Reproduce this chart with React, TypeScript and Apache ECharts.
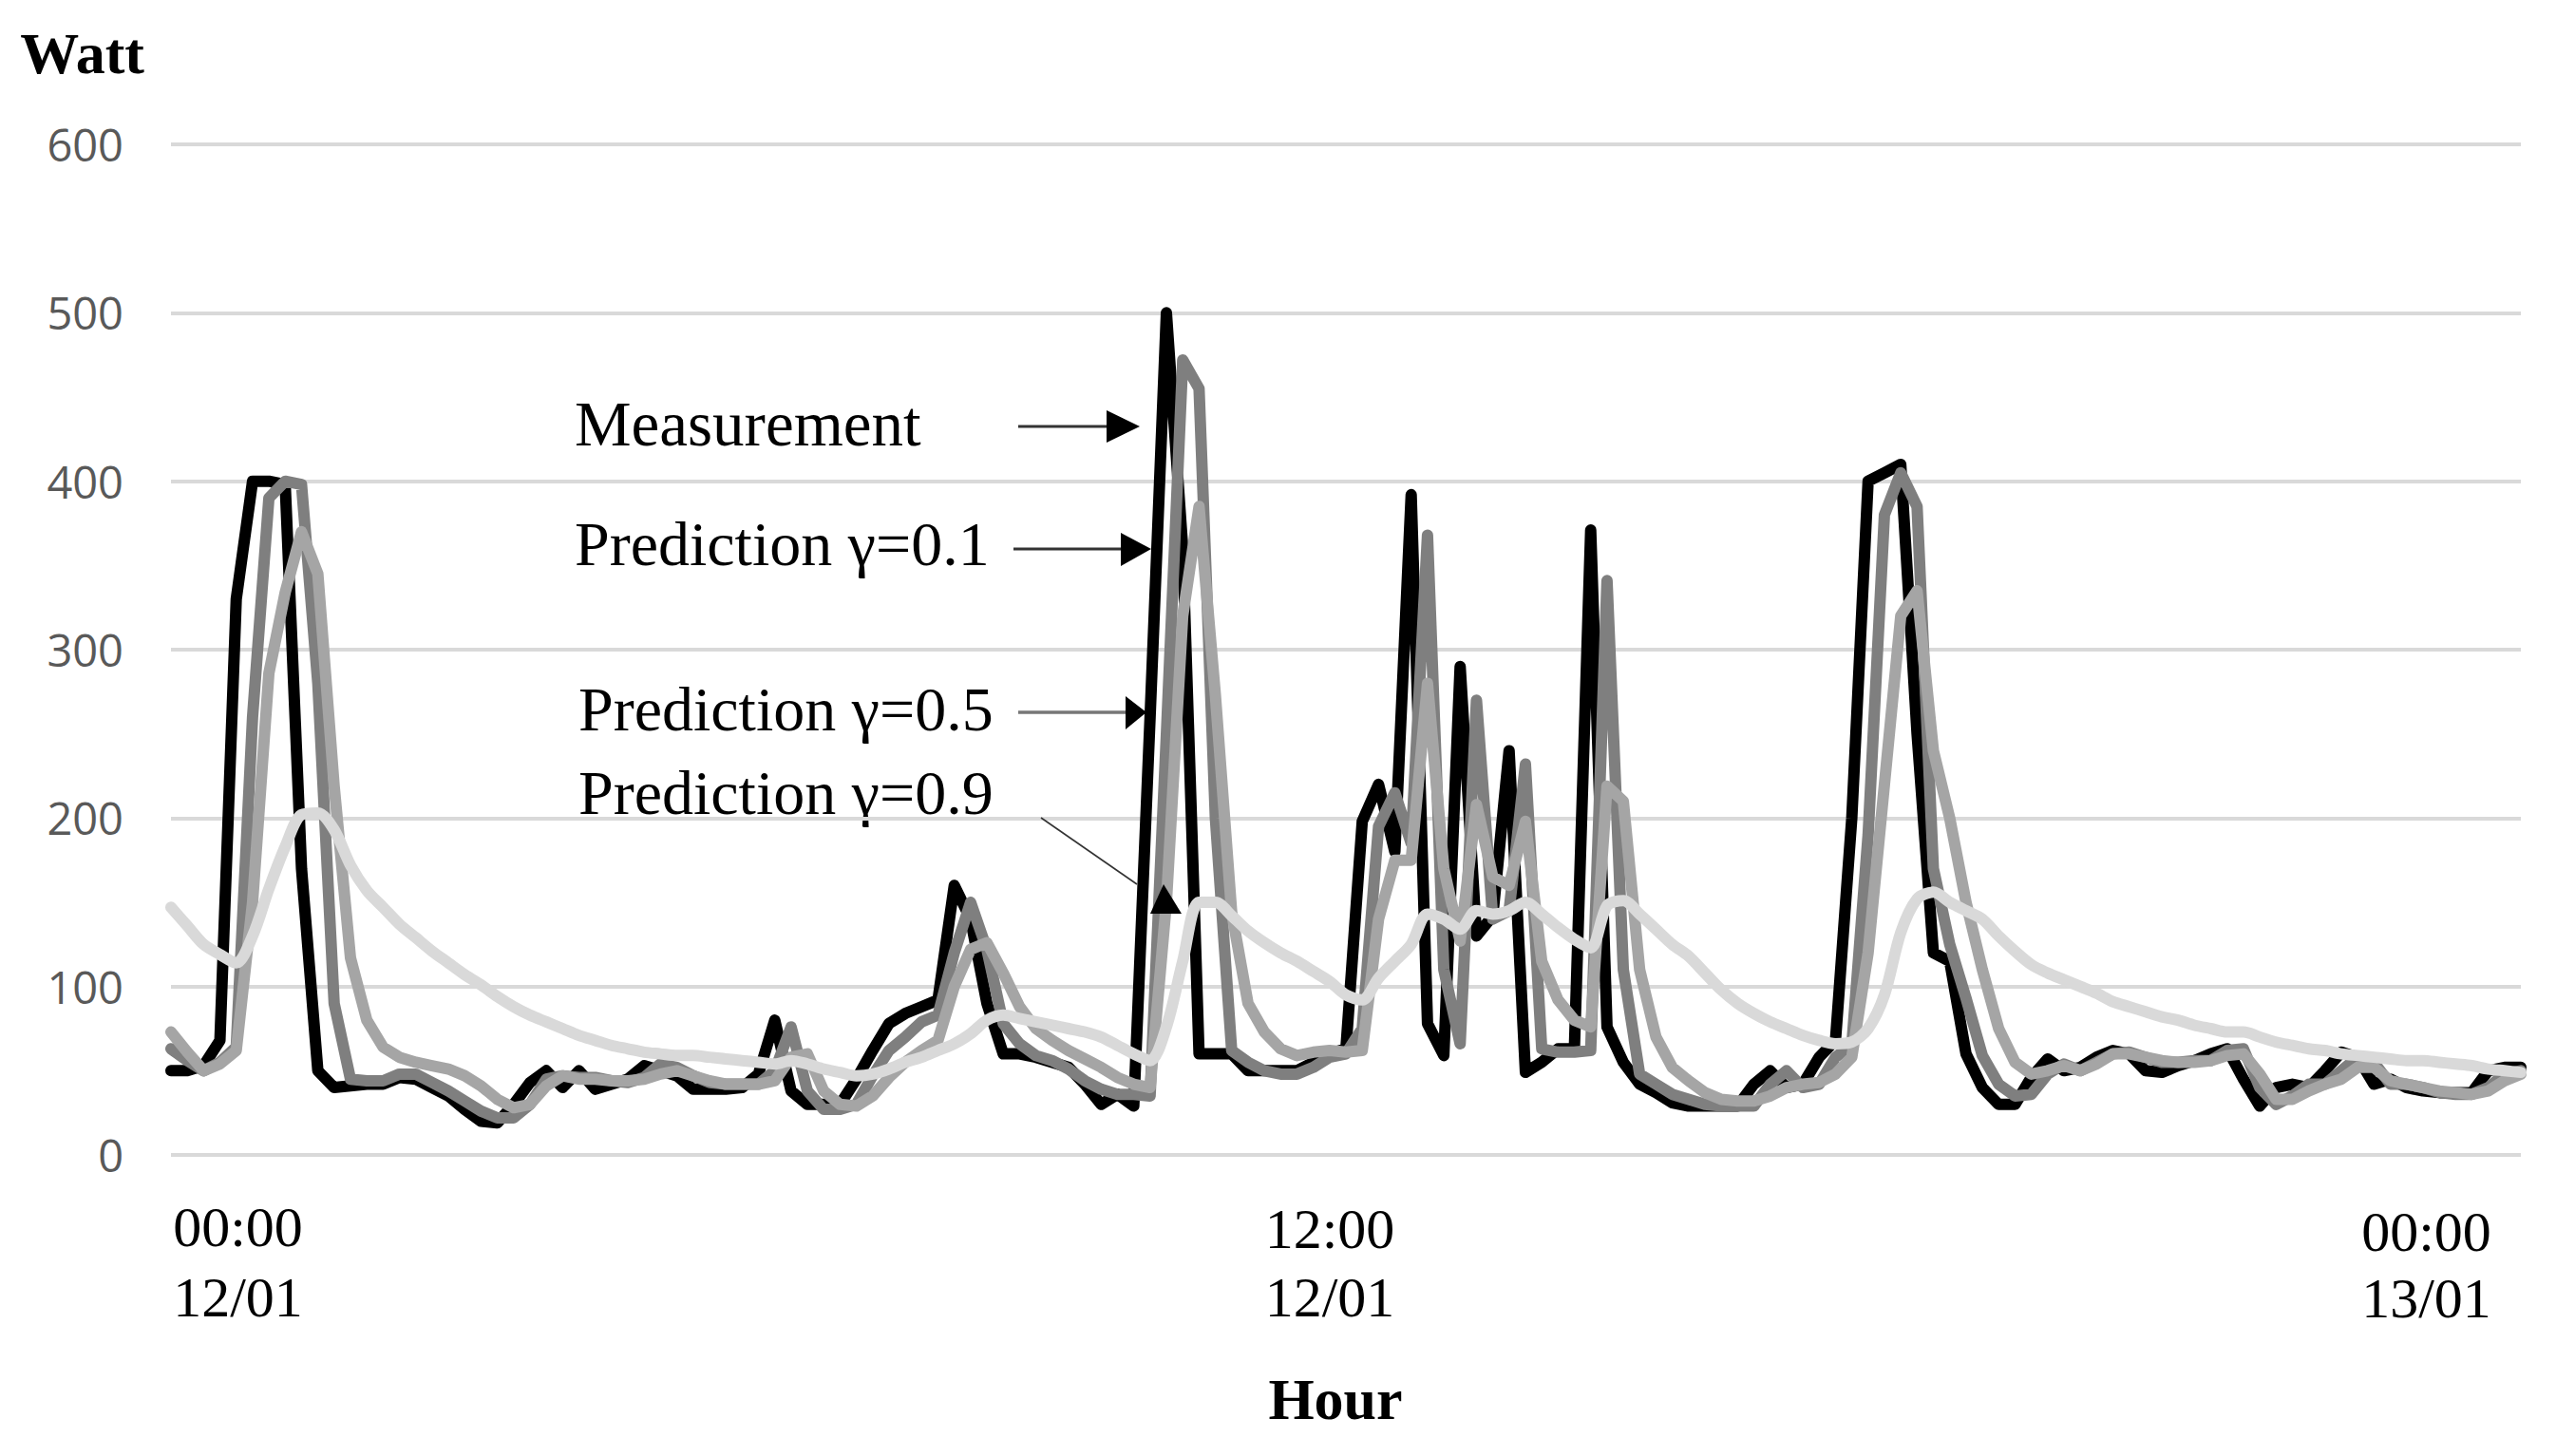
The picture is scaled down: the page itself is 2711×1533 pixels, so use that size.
import React, { useEffect, useRef } from "react";
import * as echarts from "echarts";

// 10-minute samples from 00:00 12/01 to 00:00 13/01
const pad = (n: number) => (n < 10 ? "0" + n : "" + n);
const categories: string[] = Array.from({ length: 145 }, (_, i) => {
  const t = i * 10;
  const day = 12 + Math.floor(t / 1440);
  const m = t % 1440;
  return `${pad(Math.floor(m / 60))}:${pad(m % 60)}\n${day}/01`;
});

const xTickIndex = [0, 72, 144];
const xTickStyle = ["a", "b", "c"];
const yTicks = [0, 100, 200, 300, 400, 500, 600];

const measurement = [
  50, 50, 53, 68, 330, 400, 400, 398, 170, 50,
  40, 41, 42, 42, 46, 45, 40, 35, 27, 20,
  19, 30, 43, 50, 40, 50, 39, 42, 45, 53,
  50, 47, 39, 39, 39, 40, 48, 80, 38, 30,
  30, 30, 45, 62, 78, 84, 88, 92, 160, 140,
  90, 60, 60, 58, 55, 52, 42, 30, 36, 29,
  260, 500, 360, 60, 60, 60, 50, 50, 50, 50,
  55, 60, 63, 198, 220, 180, 392, 78, 59, 290,
  130, 142, 240, 49, 55, 63, 63, 371, 76, 55,
  42, 37, 31, 29, 29, 29, 29, 42, 50, 40,
  42, 58, 68, 200, 400, 405, 410, 250, 120, 115,
  60, 40, 30, 30, 46, 57, 50, 52, 58, 62,
  60, 50, 49, 53, 56, 60, 63, 45, 29, 40,
  42, 40, 50, 61, 58, 42, 45, 40, 38, 37,
  37, 37, 50, 52, 52,
];

const predGamma01 = [
  63, 56, 50, 55, 64, 260, 390, 400, 398, 280,
  90, 45, 44, 44, 48, 48, 43, 38, 32, 26,
  22, 22, 30, 45, 47, 46, 46, 44, 43, 46,
  54, 52, 47, 43, 42, 42, 42, 50, 76, 38,
  27, 27, 30, 47, 62, 70, 79, 83, 120, 150,
  122, 78, 66, 59, 56, 51, 44, 39, 36, 36,
  35, 250, 472, 455, 200, 62, 55, 50, 48, 48,
  52, 58, 60, 75, 195, 215, 185, 368, 110, 66,
  270, 140, 145, 232, 63, 61, 61, 62, 341, 110,
  48, 42, 36, 33, 30, 29, 29, 29, 42, 50,
  40, 42, 58, 65, 190, 380, 405, 385, 170, 125,
  93, 59, 42, 35, 36, 48, 54, 50, 55, 60,
  61, 58, 55, 55, 56, 56, 62, 63, 40, 30,
  35, 42, 42, 50, 58, 55, 42, 42, 40, 37,
  36, 36, 40, 48, 50,
];

const predGamma05 = [
  73, 61, 50, 54, 62, 150, 286, 334, 370, 345,
  219, 117, 80, 64, 58, 55, 53, 51, 47, 41,
  33, 28, 30, 41, 47, 45, 45, 44, 44, 45,
  48, 50, 47, 44, 42, 42, 42, 44, 58, 60,
  38, 30, 29, 35, 46, 55, 62, 68, 100, 122,
  126, 108, 88, 75, 68, 62, 57, 52, 46, 42,
  40, 150, 320, 385, 273, 144, 90, 73, 63, 59,
  61, 62, 61, 62, 140, 175, 175, 280, 170, 127,
  208, 165, 160, 198, 115, 92, 80, 76, 219, 210,
  110, 70, 52, 44, 37, 33, 32, 32, 35, 40,
  42, 43, 48, 58, 120, 220, 320, 335, 240, 200,
  150, 110, 75, 55, 48, 50, 53, 50, 54, 60,
  60, 58, 56, 55, 55, 56, 59, 60, 48, 33,
  33, 38, 42, 45, 52, 52, 44, 42, 40, 38,
  37, 36, 38, 44, 48,
];

const predGamma09 = [
  147, 136, 125, 119, 114, 130, 158, 183, 202, 203,
  193, 172, 157, 147, 137, 129, 121, 114, 107, 101,
  94, 88, 83, 79, 75, 71, 68, 65, 63, 61,
  60, 59, 59, 58, 57, 56, 55, 54, 56, 54,
  51, 49, 47, 48, 51, 55, 58, 62, 66, 72,
  80, 83, 81, 79, 77, 75, 73, 70, 65, 60,
  56, 76, 115, 150, 150, 142, 133, 126, 120, 115,
  109, 103, 95, 92, 105, 115, 125, 143, 140, 134,
  145, 143, 145, 150, 143, 135, 128, 123, 148, 151,
  143, 134, 125, 118, 108, 98, 90, 84, 79, 75,
  71, 68, 66, 67, 75, 95, 132, 152, 156, 150,
  145, 140, 130, 121, 113, 108, 104, 100, 96, 91,
  88, 85, 82, 80, 77, 75, 73, 73, 70, 67,
  65, 63, 62, 60, 59, 58, 57, 56, 56, 55,
  54, 53, 51, 50, 49,
];

const seriesNames = ["Measurement", "Prediction γ=0.1", "Prediction γ=0.5", "Prediction γ=0.9"];
const seriesColors = ["#000000", "#7f7f7f", "#a5a5a5", "#d9d9d9"];
const seriesData = [measurement, predGamma01, predGamma05, predGamma09];

const SERIF = '"Liberation Serif", "Times New Roman", serif';
const labelFont = "66px " + SERIF;

export default function App() {
  const ref = useRef<HTMLDivElement>(null);

  useEffect(() => {
    if (!ref.current) return;
    const chart = echarts.init(ref.current, undefined, { renderer: "svg" });

    const tickText = { fontFamily: SERIF, fontSize: 60, color: "#000", lineHeight: 74 };

    const option: any = {
      animation: false,
      backgroundColor: "#ffffff",
      grid: {
        left: 180,
        right: 57,
        top: 152,
        bottom: 317,
        containLabel: false,
        outerBoundsMode: "none",
      },
      xAxis: {
        type: "category",
        boundaryGap: false,
        data: categories,
        axisLine: { show: false },
        axisTick: { show: false },
        splitLine: { show: false },
        axisLabel: {
          interval: 0,
          margin: 39,
          hideOverlap: false,
          formatter: (value: string, index: number) => {
            const k = xTickIndex.indexOf(index);
            if (k < 0) return "";
            const [l1, l2] = value.split("\n");
            const s = xTickStyle[k];
            return `{${s}1|${l1}}\n{${s}|${l2}}`;
          },
          rich: {
            a1: { ...tickText, padding: [0, 0, 0, 141] },
            a: { ...tickText, padding: [0, 0, 0, 141] },
            b1: { ...tickText, padding: [4, 34, 0, 0] },
            b: { ...tickText, padding: [0, 34, 0, 0] },
            c1: { ...tickText, padding: [10, 199, 0, 0] },
            c: { ...tickText, padding: [2, 199, 0, 0] },
          },
        },
        name: "Hour",
        nameLocation: "middle",
        nameGap: 226,
        nameTextStyle: {
          fontFamily: SERIF,
          fontWeight: "bold",
          fontSize: 62,
          color: "#000",
          padding: [0, 22, 0, 0],
        },
      },
      yAxis: {
        type: "value",
        min: yTicks[0],
        max: yTicks[yTicks.length - 1],
        interval: 100,
        axisLine: { show: false },
        axisTick: { show: false },
        splitLine: { lineStyle: { color: "#d9d9d9", width: 4 } },
        axisLabel: {
          margin: 50,
          fontFamily: '"Open Sans", sans-serif',
          fontSize: 47,
          color: "#595959",
        },
        name: "Watt",
        nameLocation: "end",
        nameGap: 65,
        nameTextStyle: {
          fontFamily: SERIF,
          fontWeight: "bold",
          fontSize: 62,
          color: "#000",
          align: "right",
          padding: [0, 28, 0, 0],
        },
      },
      series: seriesNames.map((name, k) => ({
        name,
        type: "line",
        data: seriesData[k],
        symbol: "none",
        smooth: k === 3 ? 0.3 : false,
        lineStyle: { color: seriesColors[k], width: 12, cap: "round", join: "round" },
        emphasis: { disabled: true },
      })),
      graphic: [
        { type: "text", x: 605, y: 446, style: { text: "Measurement", font: "67px " + SERIF, fill: "#000", verticalAlign: "middle", align: "left" } },
        { type: "text", x: 605, y: 572, style: { text: "Prediction γ=0.1", font: labelFont, fill: "#000", verticalAlign: "middle", align: "left" } },
        { type: "text", x: 609, y: 746, style: { text: "Prediction γ=0.5", font: labelFont, fill: "#000", verticalAlign: "middle", align: "left" } },
        { type: "text", x: 609, y: 834, style: { text: "Prediction γ=0.9", font: labelFont, fill: "#000", verticalAlign: "middle", align: "left" } },
        // arrow 1
        { type: "line", z: 100, shape: { x1: 1072, y1: 449, x2: 1170, y2: 449 }, style: { stroke: "#333", lineWidth: 3 } },
        { type: "polygon", z: 100, shape: { points: [[1200, 449], [1165, 432], [1165, 466]] }, style: { fill: "#000" } },
        // arrow 2
        { type: "line", z: 100, shape: { x1: 1067, y1: 578, x2: 1185, y2: 578 }, style: { stroke: "#333", lineWidth: 3 } },
        { type: "polygon", z: 100, shape: { points: [[1212, 578], [1180, 561], [1180, 596]] }, style: { fill: "#000" } },
        // arrow 3
        { type: "line", z: 100, shape: { x1: 1072, y1: 750, x2: 1190, y2: 750 }, style: { stroke: "#777", lineWidth: 3.5 } },
        { type: "polygon", z: 100, shape: { points: [[1207, 750], [1185, 733], [1185, 768]] }, style: { fill: "#000" } },
        // arrow 4
        { type: "line", z: 100, shape: { x1: 1096, y1: 861, x2: 1197, y2: 931 }, style: { stroke: "#333", lineWidth: 1.6 } },
        { type: "polygon", z: 100, shape: { points: [[1225, 931], [1211, 962], [1244, 962]] }, style: { fill: "#000" } },
      ],
    };

    chart.setOption(option);
    return () => chart.dispose();
  }, []);

  return (
    <div
      ref={ref}
      style={{ position: "fixed", left: 0, top: 0, width: 2711, height: 1533, background: "#fff" }}
    />
  );
}
